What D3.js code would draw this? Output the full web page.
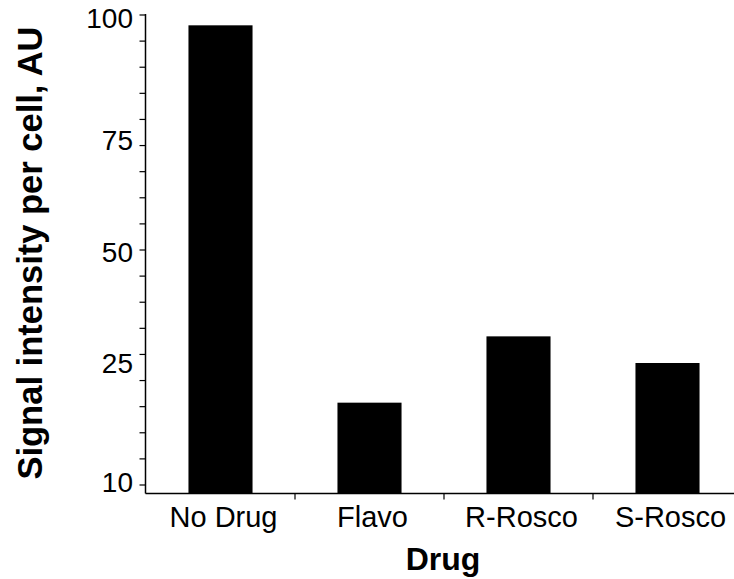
<!DOCTYPE html>
<html>
<head>
<meta charset="utf-8">
<script src="https://cdn.jsdelivr.net/npm/d3@7"></script>
<style>
  body { margin: 0; background: #fff; }
  text { font-family: "Liberation Sans", Arial, sans-serif; fill: #000; }
</style>
</head>
<body>
<div id="chart"></div>
<script>
const drugs = ["No Drug", "Flavo", "R-Rosco", "S-Rosco"];
const signal = [98.5, 20, 31, 25];
const yTicks = [10, 25, 50, 75, 100];

window.onload = function () {
	const svg = d3.select("#chart").append("svg")
		.attr("width", 734).attr("height", 579);

	// uneven axis: labelled ticks are (roughly) equally spaced
	const y = d3.scaleLinear()
		.domain(yTicks)
		.range([482, 363, 252, 140, 18]);

	const x = d3.scaleBand()
		.domain(drugs)
		.range([146, 742])
		.paddingInner(0.57)
		.paddingOuter(0.285);

	const axisX = 145.5, baseY = 493.5;

	// bars
	svg.selectAll("rect.bar")
		.data(drugs)
		.enter().append("rect")
		.attr("class", "bar")
		.attr("x", d => x(d))
		.attr("width", x.bandwidth())
		.attr("y", (d, i) => y(signal[i]))
		.attr("height", (d, i) => baseY - y(signal[i]))
		.attr("fill", "#000");

	// y axis line + ticks
	svg.append("line")
		.attr("x1", axisX).attr("x2", axisX)
		.attr("y1", 14).attr("y2", baseY)
		.attr("stroke", "#000").attr("stroke-width", 1.5);

	const minor = d3.range(0, 19).map(i => 15 + i * (470 / 18));
	svg.selectAll("line.minor")
		.data(minor)
		.enter().append("line")
		.attr("x1", axisX - 6).attr("x2", axisX)
		.attr("y1", d => d).attr("y2", d => d)
		.attr("stroke", "#000").attr("stroke-width", 1.2);

	svg.selectAll("text.ytick")
		.data(yTicks)
		.enter().append("text")
		.attr("class", "ytick")
		.attr("x", 133)
		.attr("y", d => y(d) + 10)
		.attr("text-anchor", "end")
		.style("font-size", "28px")
		.text(d => d);

	// x axis line + ticks between categories
	svg.append("line")
		.attr("x1", axisX).attr("x2", 734)
		.attr("y1", baseY).attr("y2", baseY)
		.attr("stroke", "#000").attr("stroke-width", 1.5);

	const step = x.step();
	svg.selectAll("line.xtick")
		.data(drugs.slice(1))
		.enter().append("line")
		.attr("x1", d => x(d) - (step - x.bandwidth()) / 2)
		.attr("x2", d => x(d) - (step - x.bandwidth()) / 2)
		.attr("y1", baseY).attr("y2", baseY + 6)
		.attr("stroke", "#000").attr("stroke-width", 1.2);

	svg.selectAll("text.xtick")
		.data(drugs)
		.enter().append("text")
		.attr("class", "xtick")
		.attr("x", d => x(d) + x.bandwidth() / 2 + 3)
		.attr("y", 527)
		.attr("text-anchor", "middle")
		.style("font-size", "29px")
		.text(d => d);

	// titles
	svg.append("text")
		.attr("x", 443).attr("y", 570)
		.attr("text-anchor", "middle")
		.style("font-size", "32px").style("font-weight", "bold")
		.text("Drug");

	svg.append("text")
		.attr("transform", "translate(42,253) rotate(-90)")
		.attr("text-anchor", "middle")
		.style("font-size", "34.5px").style("font-weight", "bold")
		.text("Signal intensity per cell, AU");
}
</script>
</body>
</html>
